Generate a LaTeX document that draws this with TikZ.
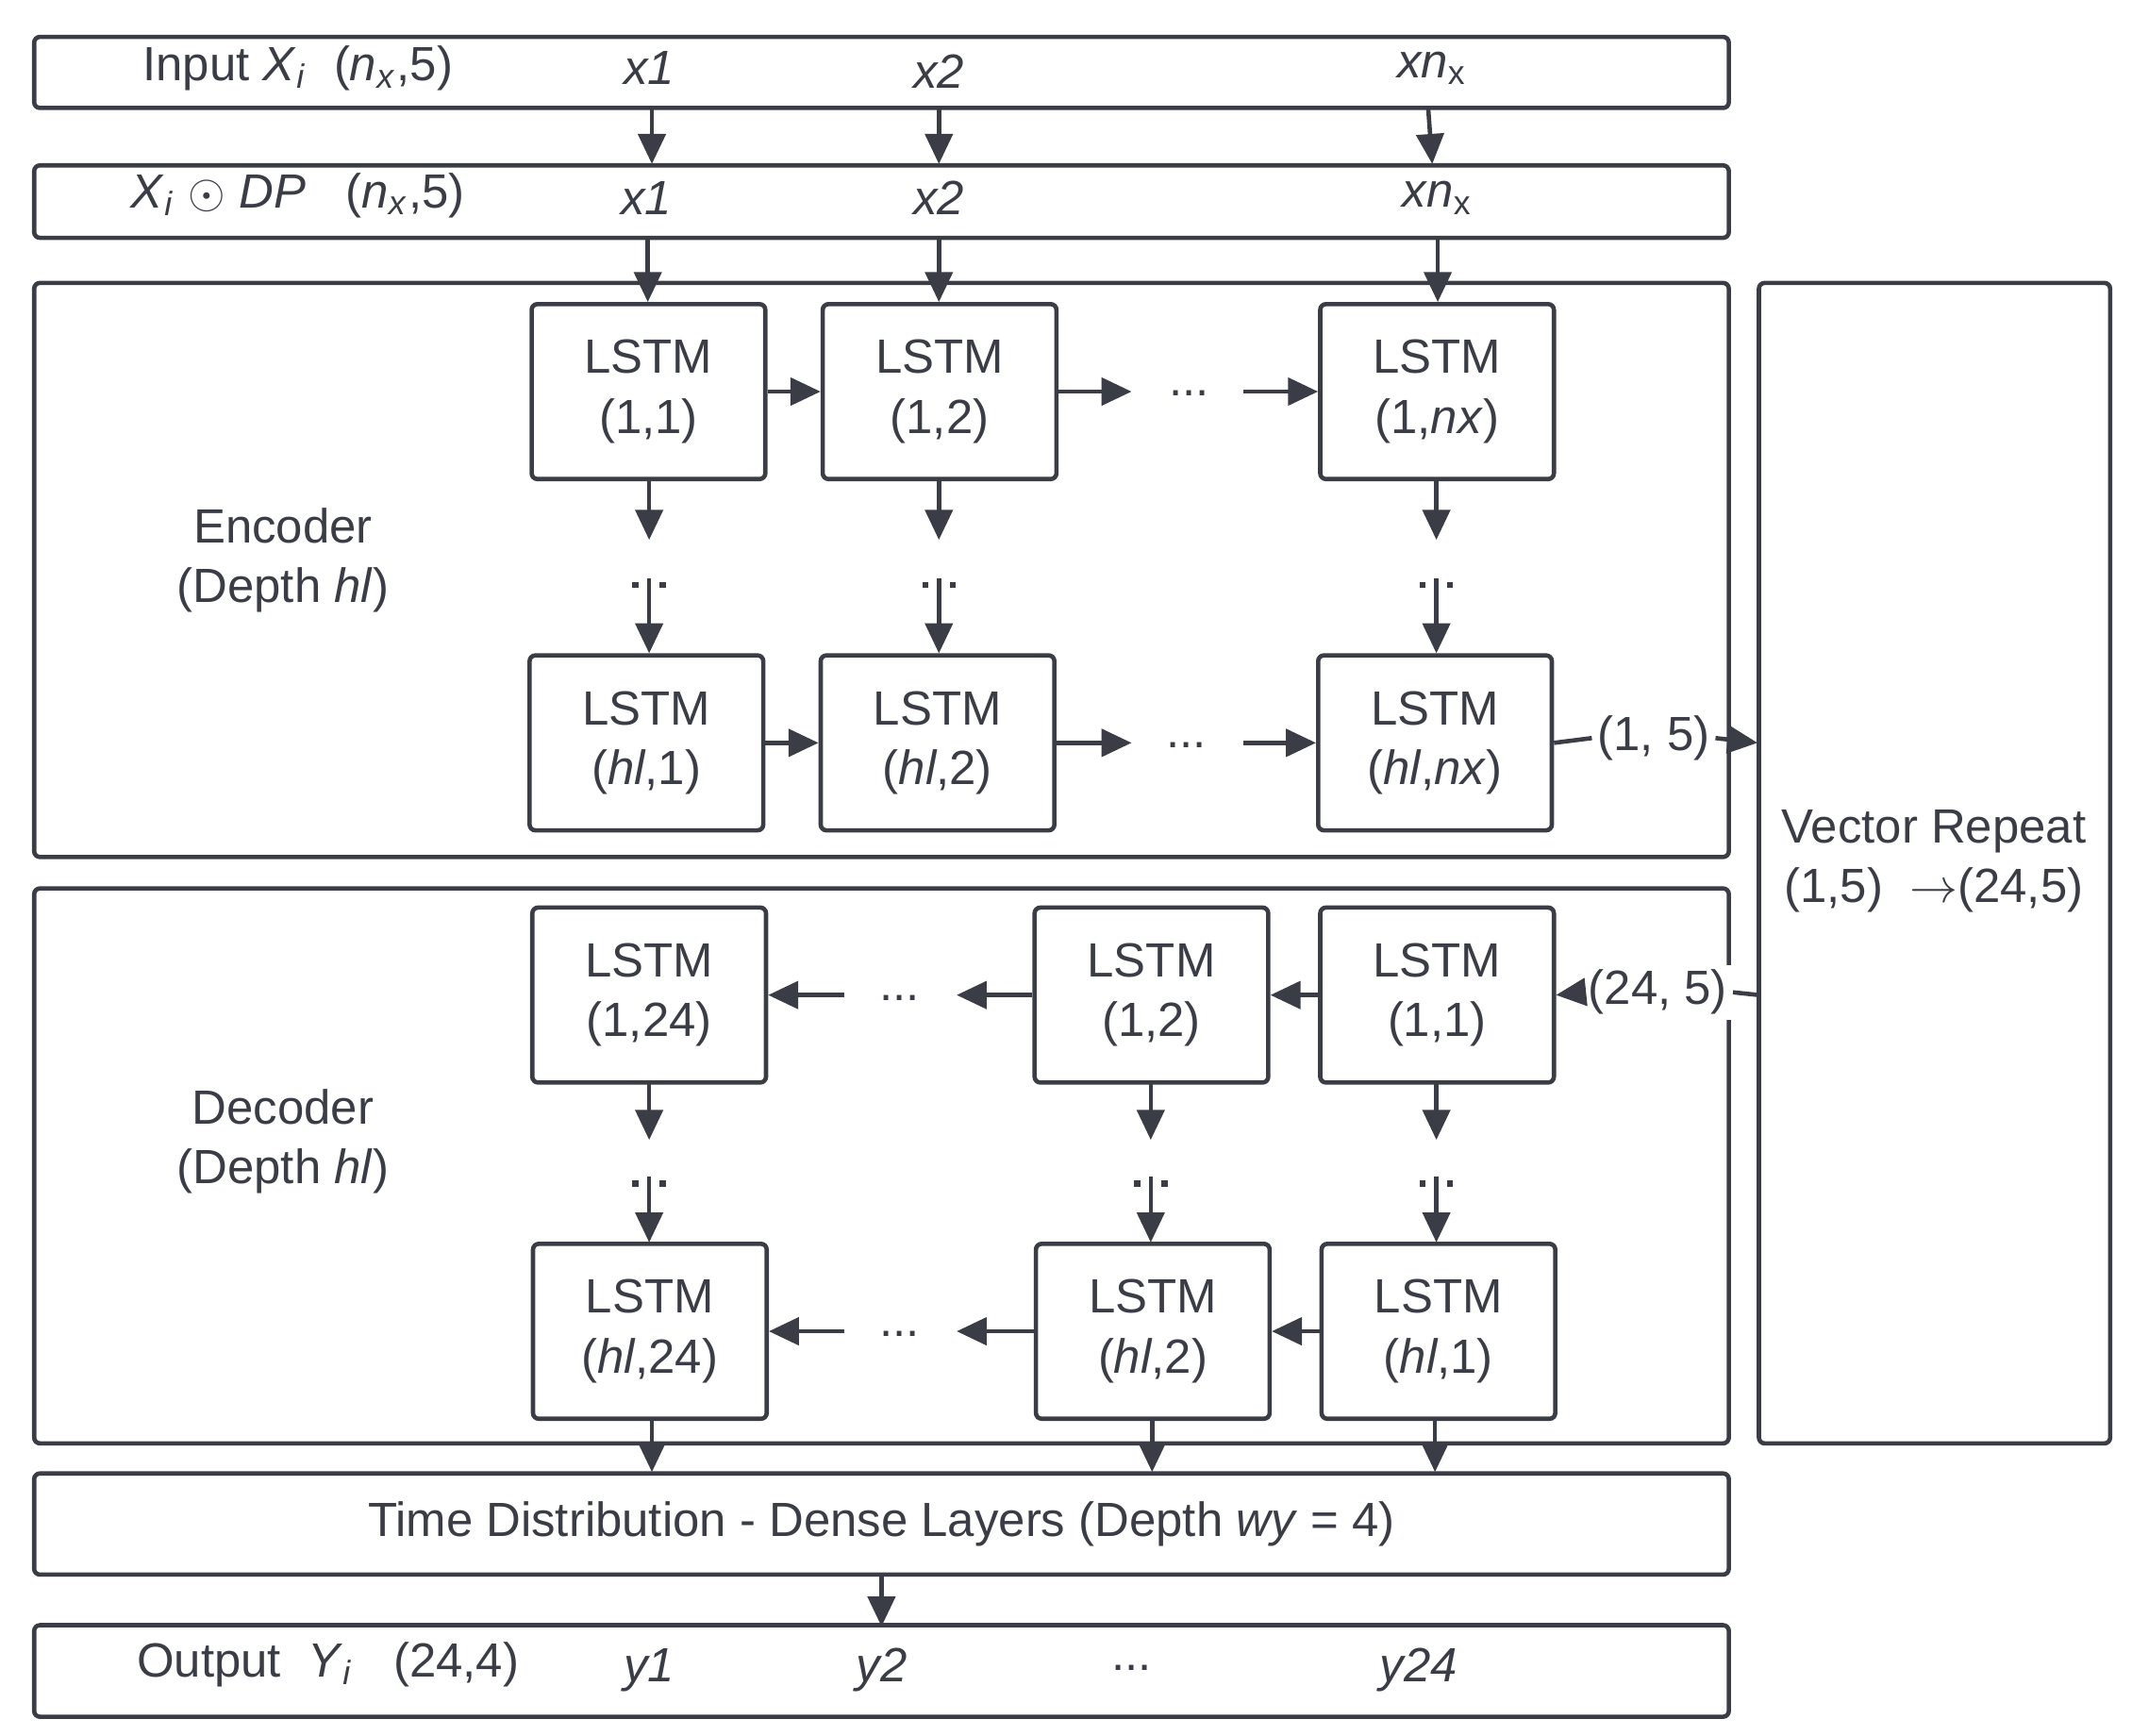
\documentclass[tikz,border=0pt]{standalone}
\usepackage{fontspec}
\setmainfont{Liberation Sans}
\usetikzlibrary{arrows.meta}
\definecolor{ink}{HTML}{3A3D45}
\newcommand{\I}[1]{\textit{#1}}
\newcommand{\Sub}[1]{\textsubscript{\textit{#1}}}
\begin{document}
\begin{tikzpicture}[x=0.1mm,y=-0.1mm,
  every node/.style={text=ink,font=\fontsize{10}{12.5}\selectfont},
  frame/.style={draw=ink,line width=0.9pt,rounded corners=1.2pt},
  box/.style={draw=ink,line width=0.9pt,rounded corners=1.2pt,minimum width=17.1mm,minimum height=12.8mm,align=center,inner sep=0pt},
  arr/.style={draw=ink,line width=0.9pt,-{Triangle[length=2.2mm,width=2mm]}},
  sq/.style={fill=ink,inner sep=0pt,minimum size=0.45mm}]
\useasboundingbox (0,0) rectangle (1560,1270);
% frames
\draw[frame] (25,27) rectangle (1265,79);
\draw[frame] (25,121) rectangle (1265,174);
\draw[frame] (25,207) rectangle (1265,627);
\draw[frame] (25,650) rectangle (1265,1056);
\draw[frame] (1287,207) rectangle (1544,1056);
\draw[frame] (25,1078) rectangle (1265,1152);
\draw[frame] (25,1189) rectangle (1265,1256);
% top texts
\node at (218,50) {Input \I{X}\Sub{i}\ \ (\I{n}\Sub{x},5)};
\node (i1) at (475,50) {\I{x1}};
\node (i2) at (687,52) {\I{x2}};
\node (i3) at (1048,50) {\I{xn}\textsubscript{x}};
\node at (218,143) {\I{X}\Sub{i} $\odot$ \I{DP}\ \ \ (\I{n}\Sub{x},5)};
\node (d1) at (473,145) {\I{x1}};
\node (d2) at (687,145) {\I{x2}};
\node (d3) at (1052,145) {\I{xn}\textsubscript{x}};
\draw[arr] (477,79)--(477,120); \draw[arr] (687,79)--(687,120); \draw[arr] (1045,79)--(1048,120);
% encoder
\node[align=center] at (207,410) {Encoder\\(Depth \I{hl})};
\node[box] (e11) at (474.5,286.5) {LSTM\\(1,1)};
\node[box] (e12) at (687.5,286.5) {LSTM\\(1,2)};
\node[box] (e13) at (1051.5,286.5) {LSTM\\(1,\I{nx})};
\node[box] (e21) at (473,543.5) {LSTM\\(\I{hl},1)};
\node[box] (e22) at (686,543.5) {LSTM\\(\I{hl},2)};
\node[box] (e23) at (1050,543.5) {LSTM\\(\I{hl},\I{nx})};
\foreach \x in {474,687,1052}{
  \draw[arr] (\x,174) -- (\x,221);}
\node (ed1) at (870,288) {...};
\node (ed2) at (868,545) {...};
\draw[arr] (e11) -- (e12);
\draw[arr] (e12.east) -- (828,286.5);
\draw[arr] (910,286.5) -- (e13.west);
\draw[arr] (e21) -- (e22);
\draw[arr] (e22.east) -- (828,543.5);
\draw[arr] (910,543.5) -- (e23.west);
\foreach \x in {475,687,1051}{
  \draw[arr] (\x,351) -- (\x,395);
  \node[sq] at (\x-10,428) {}; \node[sq] at (\x+10,428) {};
  \draw[arr] (\x,423) -- (\x,478);}
% vector repeat
\node[align=center] at (1415,630) {Vector Repeat\\(1,5)\ \ $\rightarrow$(24,5)};
\node[fill=white,inner sep=1pt] (l15) at (1210,540) {(1, 5)};
\draw[ink,line width=0.9pt] (e23.east) -- (l15.west);
\draw[arr] (l15.east) -- (1286,543.5);
% decoder
\node[align=center] at (207,835) {Decoder\\(Depth \I{hl})};
\node[box] (c11) at (475,728) {LSTM\\(1,24)};
\node[box] (c12) at (842.5,728) {LSTM\\(1,2)};
\node[box] (c13) at (1051.5,728) {LSTM\\(1,1)};
\node[box] (c21) at (475.5,974) {LSTM\\(\I{hl},24)};
\node[box] (c22) at (843.5,974) {LSTM\\(\I{hl},2)};
\node[box] (c23) at (1052.5,974) {LSTM\\(\I{hl},1)};
\node (cd1) at (658,730) {...};
\node (cd2) at (658,976) {...};
\draw[arr] (c13) -- (c12);
\draw[arr] (c12.west) -- (700,728);
\draw[arr] (618,728) -- (c11.east);
\draw[arr] (c23) -- (c22);
\draw[arr] (c22.west) -- (700,974);
\draw[arr] (618,974) -- (c21.east);
\foreach \x in {475,842,1051}{
  \draw[arr] (\x,792) -- (\x,834);
  \node[sq] at (\x-10,866) {}; \node[sq] at (\x+10,866) {};
  \draw[arr] (\x,861) -- (\x,909);}
\node[fill=white,inner sep=1pt] (l245) at (1213,726) {(24, 5)};
\draw[ink,line width=0.9pt] (1287,728) -- (l245.east);
\draw[arr] (l245.west) -- (c13.east);
% to time distribution
\foreach \x in {477,843,1050}{
  \draw[arr] (\x,1038) -- (\x,1077);}
\node (td) at (645,1115) {Time Distribution - Dense Layers (Depth \I{wy} = 4)};
\draw[arr] (645,1152) -- (645,1190);
% output
\node at (240,1218) {Output\ \ \I{Y}\Sub{i}\ \ \ (24,4)};
\node at (475,1222) {\I{y1}};
\node at (645,1222) {\I{y2}};
\node at (828,1220) {...};
\node at (1038,1222) {\I{y24}};
\end{tikzpicture}
\end{document}
